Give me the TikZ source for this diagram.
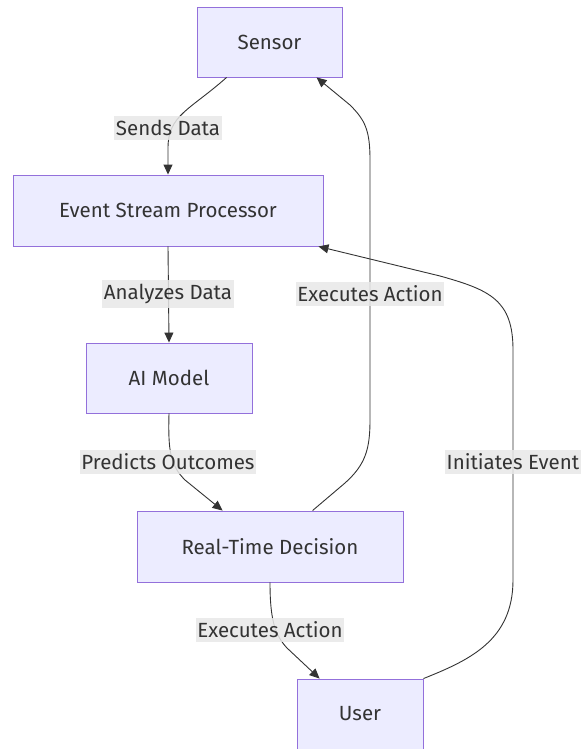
\documentclass[tikz,border=0pt]{standalone}
\usepackage{fontspec}
\setmainfont{Fira Sans}
\usepackage{xcolor}
\usetikzlibrary{arrows.meta}
\definecolor{boxfill}{HTML}{ECECFF}
\definecolor{boxline}{HTML}{9370DB}
\definecolor{ink}{HTML}{333333}
\definecolor{lblfill}{HTML}{E8E8E8}
\tikzset{
	block/.style={draw=boxline,fill=boxfill,line width=0.9pt,inner sep=0pt,text=ink,font=\fontsize{20.5}{24}\selectfont},
	lbl/.style={fill=lblfill,fill opacity=0.85,text opacity=1,text=ink,inner xsep=1.5pt,inner ysep=4pt,font=\fontsize{20.5}{24}\selectfont},
	flow/.style={draw=ink,line width=0.9pt,-{Triangle[length=10pt,width=9pt]}}
}

\begin{document}
\begin{tikzpicture}[x=1pt,y=-1pt]
	\useasboundingbox (0,0) rectangle (583,749);
	\node[block,minimum width=145pt,minimum height=70pt] (sensor) at (269.5,42) {Sensor};
	\node[block,minimum width=310pt,minimum height=71pt] (esp) at (168,210.5) {Event Stream Processor};
	\node[block,minimum width=166pt,minimum height=70pt] (ai) at (169,378) {AI Model};
	\node[block,minimum width=266pt,minimum height=71pt] (rtd) at (270,546.5) {Real-Time Decision};
	\node[block,minimum width=126pt,minimum height=70pt] (user) at (360,714) {User};
	% connectors
	\draw[flow] ([xshift=30]sensor.south west) .. controls (190,110) and (168,115) .. (168,148) -- (esp.north);
	\draw[flow] (esp.south) -- (ai.north);
	\draw[flow] (ai.south) .. controls (168,450) and (170,465) .. (185,480) -- ([xshift=86]rtd.north west);
	\draw[flow] ([xshift=176]rtd.north west) -- (345,483) .. controls (365,465) and (370,450) .. (370,420) -- (370,160) .. controls (370,130) and (365,120) .. (350,105) -- ([xshift=120]sensor.south west);
	\draw[flow] (user.north east) .. controls (470,660) and (513,640) .. (513,580) -- (513,350) .. controls (513,300) and (490,290) .. (440,276) -- ([xshift=-5]esp.south east);
	\draw[flow] (rtd.south) .. controls (270,620) and (275,635) .. (287,648) -- ([xshift=23]user.north west);
	% labels
	\node[lbl] (lsend) at (168,128) {Sends Data};
	\node[lbl] (lanalyze) at (168,294) {Analyzes Data};
	\node[lbl] (lexec) at (370,294) {Executes Action};
	\node[lbl] (lpredict) at (168,462) {Predicts Outcomes};
	\node[lbl] (linit) at (513,462) {Initiates Event};
	\node[lbl] (lact) at (270,630) {Executes Action};
\end{tikzpicture}
\end{document}
